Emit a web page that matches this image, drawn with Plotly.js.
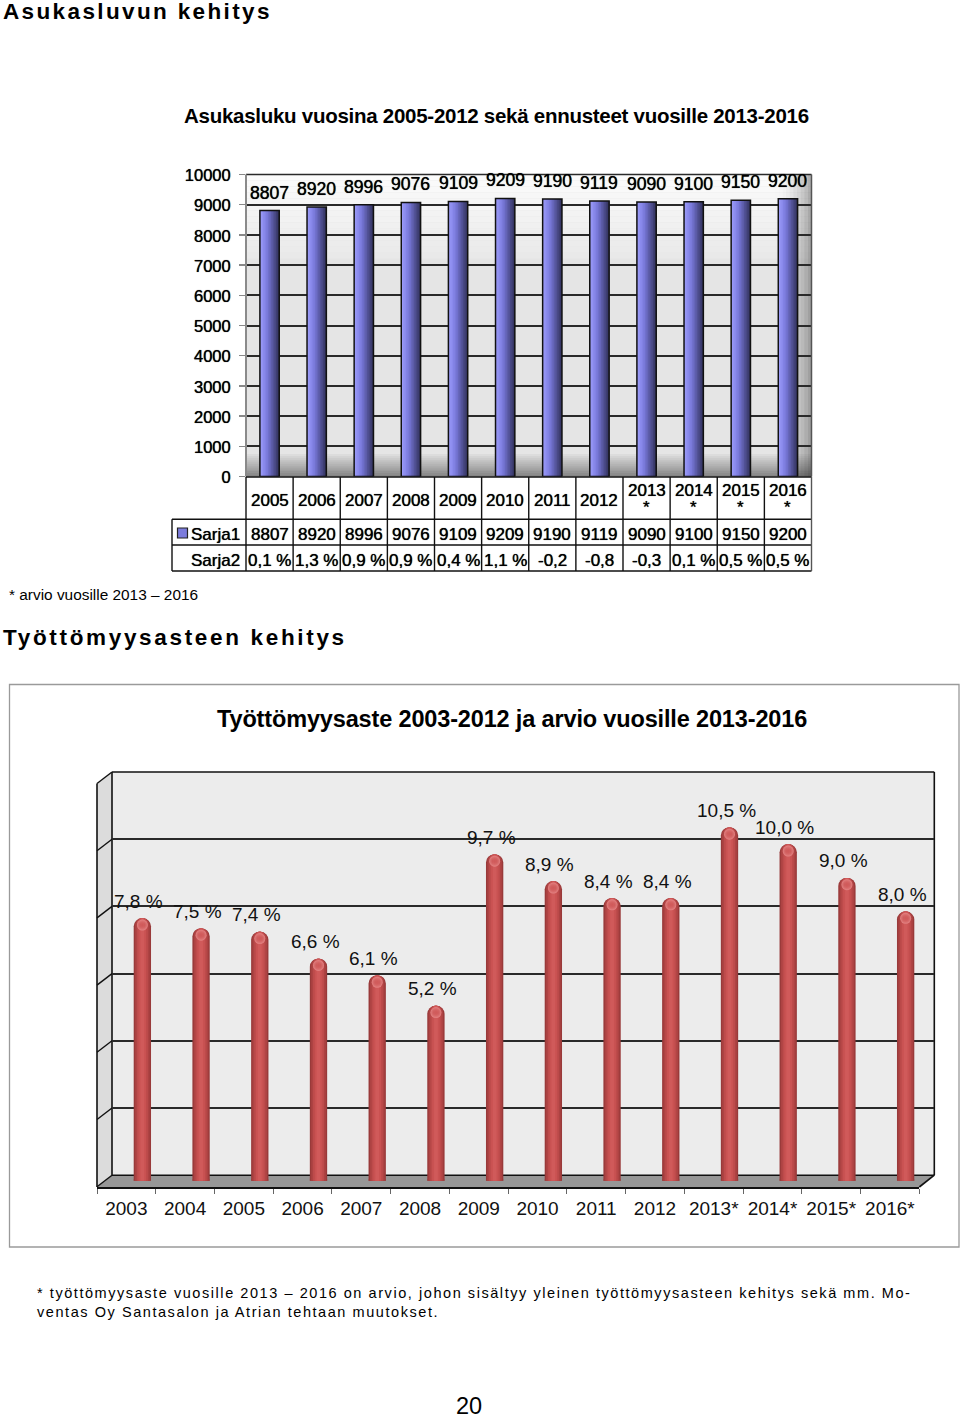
<!DOCTYPE html>
<html><head><meta charset="utf-8">
<script src="https://cdn.plot.ly/plotly-3.0.1.min.js"></script>
<style>
html,body{margin:0;padding:0;background:#fff}
#c{width:960px;height:1418px}
.annotation[data-index="0"] text{letter-spacing:2.37px}
.annotation[data-index="1"] text{letter-spacing:-0.27px}
.annotation[data-index="3"] text{letter-spacing:2.67px}
.annotation[data-index="4"] text{letter-spacing:-0.15px}
.annotation[data-index="5"] text{letter-spacing:1.56px}
.annotation[data-index="6"] text{letter-spacing:1.56px}
</style></head><body><div id="c"></div>
<script>
var popYears = ['2005','2006','2007','2008','2009','2010','2011','2012','2013','2014','2015','2016'];
var popFlags = ['','','','','','','','','*','*','*','*'];
var sarja1 = [8807,8920,8996,9076,9109,9209,9190,9119,9090,9100,9150,9200];
var sarja2 = ['0,1 %','1,3 %','0,9 %','0,9 %','0,4 %','1,1 %','-0,2','-0,8','-0,3','0,1 %','0,5 %','0,5 %'];
var unempYears = ['2003','2004','2005','2006','2007','2008','2009','2010','2011','2012','2013*','2014*','2015*','2016*'];
var unempRate = [7.8,7.5,7.4,6.6,6.1,5.2,9.7,8.9,8.4,8.4,10.5,10.0,9.0,8.0];
var blueRamp = ['#9a9af6','#9292f2','#8a8aec','#8282e4','#7a7ada','#7070cc','#6666ba','#5c5ca8','#525296','#484884','#3e3e72','#343460'];
var redRamp = ['#993a3a','#ad4343','#bd4b4b','#c95252','#d05a5a'];

var W=960,H=1418;
function px(x){return x/W} function py(y){return 1-y/H}
function dom(a,b){return [a/W,b/W]} function vdom(top,bot){return [1-bot/H,1-top/H]}
var rect=function(x0,y0,x1,y1,fill){return {type:'rect',xref:'paper',yref:'paper',x0:px(x0),x1:px(x1),y0:py(y0),y1:py(y1),fillcolor:fill,line:{width:0},layer:'below'}};
var seg=function(x0,y0,x1,y1,c,w,layer){return {type:'line',xref:'paper',yref:'paper',x0:px(x0),x1:px(x1),y0:py(y0),y1:py(y1),line:{color:c,width:w},layer:layer||'above'}};
var poly=function(pts,fill){return {type:'path',xref:'paper',yref:'paper',path:pts.map(function(p,i){return (i?'L':'M')+px(p[0])+' '+py(p[1])}).join(' ')+' Z',fillcolor:fill,line:{width:0},layer:'below'}};

/* ---------- geometry ---------- */
var L1=246,R1=811.5,T1=174.5,B1=476.5;
var colW=(R1-L1)/popYears.length;
var shapes=[];
// upper chart wall
shapes.push(rect(L1,T1,R1,B1,'#e5e5e5'));
for(var i=0;i<14;i++){var g=252-i*1.4|0;shapes.push(rect(L1,T1+i*6,R1,T1+(i+1)*6,'rgb('+g+','+g+','+g+')'));}
for(i=0;i<12;i++){var a=(i+1)/12*0.42;shapes.push(rect(L1,454+i*1.9,R1,454+(i+1)*1.9,'rgba(0,0,0,'+a.toFixed(3)+')'));}
for(i=0;i<10;i++){var a2=(i+1)/10*0.3;shapes.push(rect(775+i*3.65,T1,775+(i+1)*3.65,B1,'rgba(0,0,0,'+(a2*a2/0.3).toFixed(3)+')'));}
shapes.push(seg(L1,T1,R1,T1,'#2a2a2a',1.6,'below'));
shapes.push(seg(L1,T1,L1,B1,'#8a8a8a',2));
shapes.push(seg(R1,T1,R1,B1,'#555',1.5));
// upper table
shapes.push(rect(L1,477,R1,571,'#ffffff'));
shapes.push(seg(L1,477,R1,477,'#111',1.4));
shapes.push(seg(172,519.3,R1,519.3,'#111',1.4));
shapes.push(seg(172,545,R1,545,'#111',1.4));
shapes.push(seg(172,571,R1,571,'#111',1.4));
shapes.push(seg(172,519.3,172,571,'#111',1.4));
for(i=0;i<=popYears.length;i++){shapes.push(seg(L1+i*colW,477,L1+i*colW,571,i==popYears.length?'#555':'#111',1.4));}
shapes.push({type:'rect',xref:'paper',yref:'paper',x0:px(177.5),x1:px(187.5),y0:py(538),y1:py(528),fillcolor:'#7c7cdc',line:{color:'#222',width:1.2}});

// lower frame
shapes.push({type:'rect',xref:'paper',yref:'paper',x0:px(9.5),x1:px(959),y0:py(1247),y1:py(684.5),fillcolor:'rgba(0,0,0,0)',line:{color:'#9a9a9a',width:1.3},layer:'below'});
// lower 3D box
var WL=112,WR=934.3,WT=772,WB=1175.2,FL=97,FR=919.3,FB=1187,D=11.5;
shapes.push(rect(WL,WT,WR,WB,'#ececec'));
shapes.push(poly([[FL,WT+D],[WL,WT],[WL,WB],[FL,FB]],'#dcdcdc'));
shapes.push(poly([[FL,FB],[WL,WB],[WR,WB],[FR,FB]],'#979797'));
var gridVals=[0,2,4,6,8,10,12];
gridVals.forEach(function(v){var y=WB-(WB-WT)*v/12;shapes.push(seg(FL,y+D,WL,y,'#111',1.4,'below'));});
shapes.push(seg(WL,WT,WR,WT,'#111',1.6,'below'));
shapes.push(seg(WL,WB,WR,WB,'#111',1.6,'below'));
shapes.push(seg(FL,WT+D,FL,FB,'#111',1.6,'below'));
shapes.push(seg(WL,WT,WL,WB,'#111',1.6,'below'));
shapes.push(seg(WR,WT,WR,WB,'#111',1.6,'below'));
shapes.push(seg(FR,FB,WR,WB,'#111',1.6,'below'));

/* ---------- traces ---------- */
var traces=[];
var bw=0.41,N=blueRamp.length;
blueRamp.forEach(function(c,k){
  traces.push({type:'bar',x:popYears,y:sarja1,xaxis:'x',yaxis:'y',width:bw*(N-k)/N,
    offset:-bw/2+bw*k/N,marker:{color:c,line:{width:0}},hoverinfo:'skip',showlegend:false});
});
traces.push({type:'bar',name:'Sarja1',x:popYears,y:sarja1,xaxis:'x',yaxis:'y',width:bw,
  marker:{color:'rgba(0,0,0,0)',line:{color:'#111',width:1.5}},hoverinfo:'skip',showlegend:false});

// grid holder of the lower wall
traces.push({type:'scatter',mode:'none',x:unempYears,y:unempRate,xaxis:'x2',yaxis:'y2',hoverinfo:'skip',showlegend:false});
// lower cylinders
var rw=0.295,fr=[1,0.84,0.64,0.44,0.22];
var stub=unempRate.map(function(){return 0.1});
redRamp.forEach(function(c,k){
  traces.push({type:'bar',x:unempYears,y:stub,base:-0.06,xaxis:'x3',yaxis:'y3',width:rw*fr[k],marker:{color:c,line:{width:0}},hoverinfo:'skip',showlegend:false});
  traces.push({type:'bar',x:unempYears,y:unempRate,xaxis:'x3',yaxis:'y3',width:rw*fr[k],
    marker:{color:c,line:{width:0},cornerradius:17.3*fr[k]/2},hoverinfo:'skip',showlegend:false});
});
traces.push({type:'scatter',mode:'markers',x:unempYears,y:unempRate.map(function(v){return v-0.2}),xaxis:'x3',yaxis:'y3',
  marker:{size:11,color:'#e48484',gradient:{type:'radial',color:'rgba(208,90,90,0)'},line:{width:0}},hoverinfo:'skip',showlegend:false});
// tick-label holder
traces.push({type:'scatter',mode:'none',x:unempYears,y:unempRate,xaxis:'x4',yaxis:'y4',hoverinfo:'skip',showlegend:false});

/* ---------- text ---------- */
var F='"Liberation Sans",Arial,sans-serif';
var SH='0 0 0.7px #000';
function txt(text,x,y,size,bold,anchor){return {text:text,xref:'paper',yref:'paper',x:px(x),y:py(y),showarrow:false,xanchor:anchor||'left',yanchor:'middle',align:anchor||'left',
  font:{family:F,size:size,color:'#000',weight:bold?700:400}}}
var ann=[
 txt('Asukasluvun kehitys',1,12,22.5,true),
 txt('Asukasluku vuosina 2005-2012 sekä ennusteet vuosille 2013-2016',182,116,20.5,true),
 txt('* arvio vuosille 2013 – 2016',7,594.5,15.4,false),
 txt('Työttömyysasteen kehitys',1,637.5,22.5,true),
 txt('Työttömyysaste 2003-2012 ja arvio vuosille 2013-2016',215,719,23.5,true),
 txt('* työttömyysaste vuosille 2013 – 2016 on arvio, johon sisältyy yleinen työttömyysasteen kehitys sekä mm. Mo-',35,1293,14.5,false),
 txt('ventas Oy Santasalon ja Atrian tehtaan muutokset.',35,1312,14.5,false),
 txt('20',469,1406,23.5,false,'center'),
 txt('Sarja1',242,534,17,false,'right'),
 txt('Sarja2',242,560,17,false,'right')
];
ann[8].font.shadow=SH;ann[9].font.shadow=SH;
popYears.forEach(function(y,k){
  var base={xref:'x',x:k,showarrow:false,yanchor:'middle',font:{family:F,size:17,color:'#000',shadow:SH}};
  ann.push(Object.assign({},base,{yref:'y',y:sarja1[k],yshift:18,text:String(sarja1[k]),font:{family:F,size:17.6,color:'#000',shadow:SH}}));
  if(popFlags[k]){
    ann.push(Object.assign({},base,{yref:'paper',y:py(490),text:y}));
    ann.push(Object.assign({},base,{yref:'paper',y:py(507),text:popFlags[k]}));
  } else {
    ann.push(Object.assign({},base,{yref:'paper',y:py(500),text:y}));
  }
  ann.push(Object.assign({},base,{yref:'paper',y:py(534),text:String(sarja1[k])}));
  ann.push(Object.assign({},base,{yref:'paper',y:py(560.5),text:sarja2[k]}));
});
unempYears.forEach(function(y,k){
  ann.push({xref:'x3',yref:'y3',x:k,y:unempRate[k],xshift:-3.5,yshift:17,showarrow:false,yanchor:'middle',
    text:unempRate[k].toFixed(1).replace('.',',')+' %',font:{family:F,size:19,color:'#111'}});
});

/* ---------- layout ---------- */
var layout={
 width:W,height:H,autosize:false,margin:{l:0,r:0,t:0,b:0,pad:0},
 paper_bgcolor:'#fff',plot_bgcolor:'rgba(0,0,0,0)',showlegend:false,barmode:'overlay',hovermode:false,
 font:{family:F,color:'#000'},
 xaxis:{domain:dom(L1,R1),type:'category',categoryorder:'array',categoryarray:popYears,range:[-0.5,11.5],anchor:'y',showticklabels:false,ticks:'',showgrid:false,showline:false,zeroline:false},
 yaxis:{domain:vdom(T1,B1),range:[0,10000],tick0:0,dtick:1000,tickformat:'d',anchor:'x',ticks:'outside',ticklen:6,tickcolor:'#888',tickwidth:1.3,showgrid:true,gridcolor:'#2a2a2a',gridwidth:2,zeroline:false,showline:false,ticklabelstandoff:5,ticklabelshift:1,tickfont:{family:F,size:16.5,color:'#000',shadow:SH}},
 xaxis2:{domain:dom(WL,WR),type:'category',range:[-0.5,13.5],categoryorder:'array',categoryarray:unempYears,anchor:'y2',visible:false},
 yaxis2:{domain:vdom(WT,WB),range:[0,12],tickvals:gridVals,anchor:'x2',showticklabels:false,ticks:'',showgrid:true,gridcolor:'#2a2a2a',gridwidth:2,zeroline:false,showline:false},
 xaxis3:{domain:dom(113,935),type:'category',range:[-0.5,13.5],categoryorder:'array',categoryarray:unempYears,anchor:'y3',visible:false},
 yaxis3:{domain:vdom(777,1180.8),range:[0,12],anchor:'x3',visible:false},
 xaxis4:{domain:dom(FL,FR),type:'category',range:[-0.5,13.5],categoryorder:'array',categoryarray:unempYears,anchor:'y4',tickson:'boundaries',ticks:'outside',ticklen:5,tickcolor:'#666',tickwidth:1,tickangle:0,showline:true,linecolor:'#111',linewidth:1.8,showgrid:false,zeroline:false,ticklabelstandoff:3,tickfont:{family:F,size:19,color:'#111'}},
 yaxis4:{domain:vdom(WT,FB),range:[0,12],anchor:'x4',visible:false},
 shapes:shapes,annotations:ann
};
Plotly.newPlot('c',traces,layout,{staticPlot:true,displayModeBar:false,responsive:false});
</script></body></html>
